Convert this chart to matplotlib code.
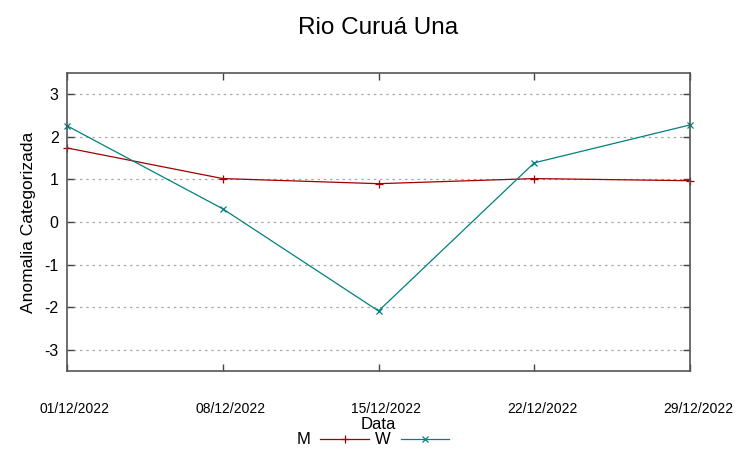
import matplotlib
matplotlib.use("Agg")
import matplotlib.pyplot as plt
import matplotlib.transforms as mtransforms

plt.rcParams['font.family'] = ['Liberation Sans', 'DejaVu Sans']

dates = ["01/12/2022", "08/12/2022", "15/12/2022", "22/12/2022", "29/12/2022"]
m_values = [1.74, 1.02, 0.90, 1.02, 0.97]
w_values = [2.26, 0.31, -2.09, 1.39, 2.28]
yticks = [-3, -2, -1, 0, 1, 2, 3]

fig = plt.figure(figsize=(7.52, 4.59), dpi=100)
ax = fig.add_axes([67/752, 88/459, 623/752, 298/459])

x = list(range(len(dates)))
ax.plot(x, m_values, color='#a00000', lw=0.9, marker='+', ms=6, mew=0.9, label='M', clip_on=False)
ax.plot(x, w_values, color='#008080', lw=0.9, marker='x', ms=5, mew=0.9, label='W', clip_on=False)

ax.set_xlim(0, len(dates) - 1)
ax.set_ylim(-3.5, 3.5)
ax.set_xticks(x)
ax.set_xticklabels(dates, fontsize=10)
ax.set_yticks(yticks)
ax.set_yticklabels([str(v) for v in yticks], fontsize=11.5)
ax.tick_params(axis='both', direction='in', top=True, right=True, length=5, width=1, color='#444444')
ax.tick_params(axis='x', pad=22)
ax.tick_params(axis='y', pad=6)
ax.yaxis.grid(True, linestyle=(0, (2, 3)), color='#aaaaaa', lw=0.9)
for s in ax.spines.values():
    s.set_color('#555555')
    s.set_linewidth(1.2)

offset = mtransforms.ScaledTranslation(8/100, 0, fig.dpi_scale_trans)
for lab in ax.get_xticklabels():
    lab.set_transform(lab.get_transform() + offset)

ax.set_ylabel('Anomalia Categorizada', fontsize=12.5, labelpad=6)
ax.set_xlabel('Data', fontsize=12, labelpad=1)
fig.text(378/752, 1 - 28/459, 'Rio Curuá Una', fontsize=17.5, ha='center', va='center')

leg = fig.legend(loc='center', bbox_to_anchor=(373/752, 1 - 440/459), ncol=2,
                 frameon=False, markerfirst=False, fontsize=12, handlelength=2.9,
                 handletextpad=0.6, columnspacing=0.4)

fig.savefig('out.png', dpi=100)
